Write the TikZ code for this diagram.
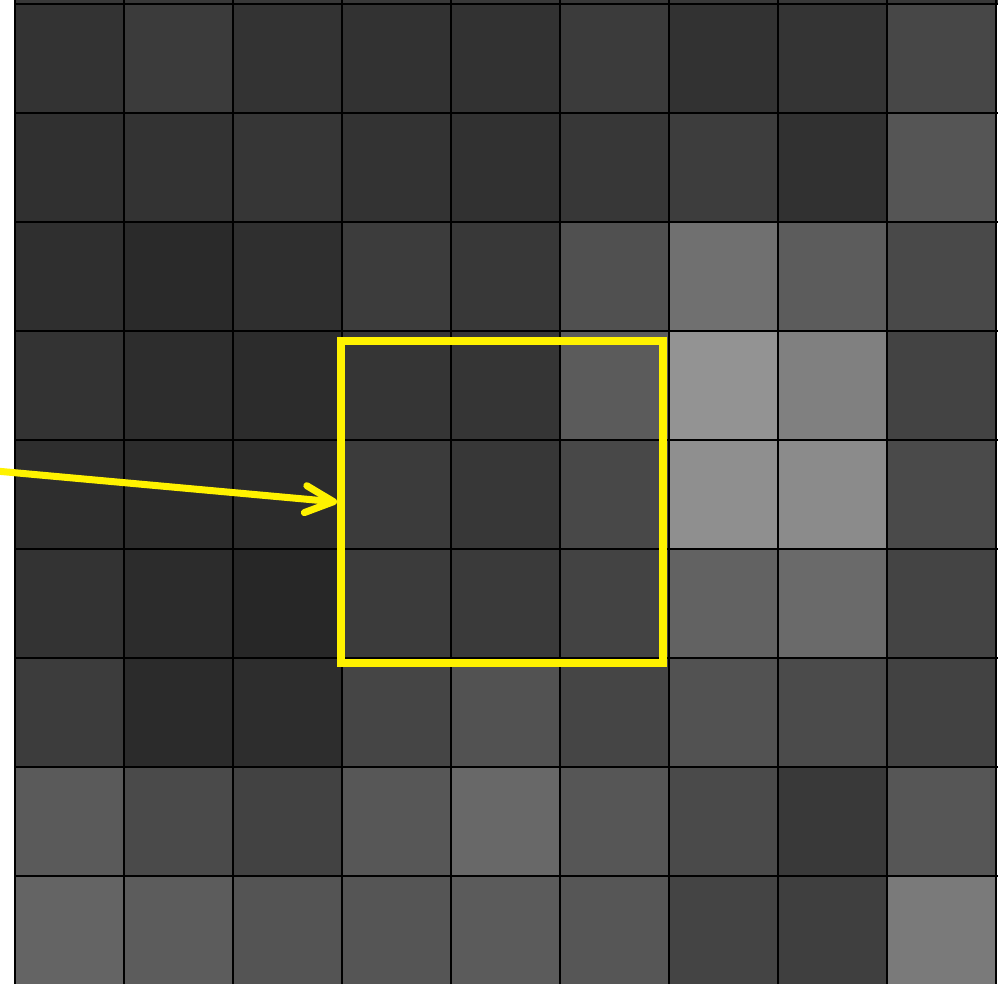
\documentclass[tikz,border=0pt]{standalone}
\usepackage{xcolor}
\usepackage{tikz}
\usetikzlibrary{arrows.meta,positioning,calc}

\begin{document}
\begin{tikzpicture}[
  x=0.02cm, y=-0.02cm,
  cellline/.style={draw=black,line width=0.8pt},
  window/.style={rectangle,draw=yellow,line width=4.6pt,inner sep=0pt,
                 minimum width=6.44cm,minimum height=6.44cm},
  pointer/.style={-{Straight Barb[length=5.6mm,width=5.4mm,round]},
                  draw=yellow,line width=4pt,line cap=round,line join=round},
]
\useasboundingbox (0,0) rectangle (998,984);
\clip (0,0) rectangle (998,984);
% pixel grey levels, row by row
\foreach \row [count=\r from 0] in {
  {51,59,51,50,50,59,50,52,71},
  {48,51,54,51,49,55,61,49,85},
  {47,42,47,60,56,80,112,92,73},
  {51,45,44,53,53,91,147,128,67},
  {46,44,44,59,55,72,143,139,74},
  {51,44,39,59,58,67,98,106,68},
  {60,43,45,69,82,69,82,75,66},
  {90,74,66,87,104,86,74,57,86},
  {100,92,84,85,91,86,68,63,122}}
  \foreach \v [count=\c from 0] in \row {
    \definecolor{cellc}{RGB}{\v,\v,\v}
    \fill[cellc] (15+109*\c,4+109*\r) rectangle ++(109,109);
  }
\fill[black!78] (15,-10) rectangle (998,4);
\foreach \k in {0,...,9} {
  \draw[cellline] (15+109*\k,0) -- (15+109*\k,984);
  \draw[cellline] (15,4+109*\k) -- (998,4+109*\k);
}
\node[window] (win) at (502,502) {};
\coordinate (src) at (-4,471);
\draw[pointer] (src) -- (win.west);
\end{tikzpicture}
\end{document}
